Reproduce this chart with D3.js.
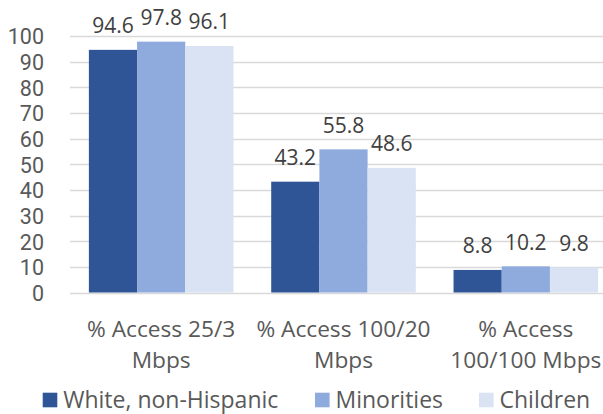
<!DOCTYPE html>
<html><head><meta charset="utf-8">
<script src="https://cdn.jsdelivr.net/npm/d3@7"></script>
<style>body{margin:0;background:#fff;overflow:hidden}svg{display:block}</style>
</head><body><svg id="c" width="603" height="414"></svg>
<script>
const categories = [["% Access 25/3", "Mbps"], ["% Access 100/20", "Mbps"], ["% Access", "100/100 Mbps"]];
const seriesNames = ["White, non-Hispanic", "Minorities", "Children"];
const white = [94.6, 43.2, 8.8];
const minorities = [97.8, 55.8, 10.2];
const children = [96.1, 48.6, 9.8];
const colors = ["#2F5597", "#8FAADC", "#DAE3F3"];
const yTicks = [0,10,20,30,40,50,60,70,80,90,100];

const series = [white, minorities, children];
const font = "'Segoe UI','Open Sans','Noto Sans',sans-serif";
const numFont = "Roboto,'Open Sans',sans-serif";
const svg = d3.select("#c");
const x = d3.scaleBand().domain(d3.range(categories.length)).range([70, 617]).paddingInner(0.207).paddingOuter(0.1035);
const xs = d3.scaleBand().domain(d3.range(series.length)).range([0, x.bandwidth()]);
const y = d3.scaleLinear().domain([0, 100]).range([292.5, 36]);

const grid = svg.append("g");
grid.selectAll("line").data(yTicks).join("line")
  .attr("x1", 70).attr("x2", 617)
  .attr("y1", d => Math.round(y(d)) + 0.5).attr("y2", d => Math.round(y(d)) + 0.5)
  .attr("stroke", "#D9D9D9").attr("stroke-width", 1.3);

const yAxis = svg.append("g").attr("transform", "translate(70,0)")
  .call(d3.axisLeft(y).tickValues(yTicks).tickSize(0).tickPadding(26));
yAxis.select(".domain").remove();
yAxis.selectAll("text").attr("font-family", numFont).attr("font-size", 21.5)
  .attr("dy", "0.37em").attr("fill", "#595959");

series.forEach((s, i) => {
  const g = svg.append("g");
  g.selectAll("rect").data(s).join("rect")
    .attr("x", (d, j) => x(j) + xs(i)).attr("width", xs.bandwidth())
    .attr("y", d => y(d)).attr("height", d => y(0) - y(d))
    .attr("fill", colors[i]);
  g.selectAll("text").data(s).join("text")
    .attr("x", (d, j) => x(j) + xs(i) + xs.bandwidth() / 2)
    .attr("y", d => y(d) - 16.7)
    .attr("text-anchor", "middle")
    .attr("font-family", font).attr("font-size", 21).attr("fill", "#404040")
    .text(d => d.toFixed(1));
});

const cat = svg.append("g");
categories.forEach((lines, j) => {
  const t = cat.append("text").attr("text-anchor", "middle")
    .attr("font-family", font).attr("font-size", 22.7).attr("fill", "#595959");
  lines.forEach((l, k) => t.append("tspan")
    .attr("x", x(j) + x.bandwidth() / 2).attr("y", 336.7 + k * 31.6).text(l));
});

const legX = [42.7, 315, 479];
const leg = svg.append("g");
seriesNames.forEach((n, i) => {
  leg.append("rect").attr("x", legX[i]).attr("y", 392.7).attr("width", 14.6).attr("height", 14.6).attr("fill", colors[i]);
  leg.append("text").attr("x", legX[i] + 20.5).attr("y", 408.3)
    .attr("font-family", font).attr("font-size", 23).attr("fill", "#595959").text(n);
});
</script></body></html>
